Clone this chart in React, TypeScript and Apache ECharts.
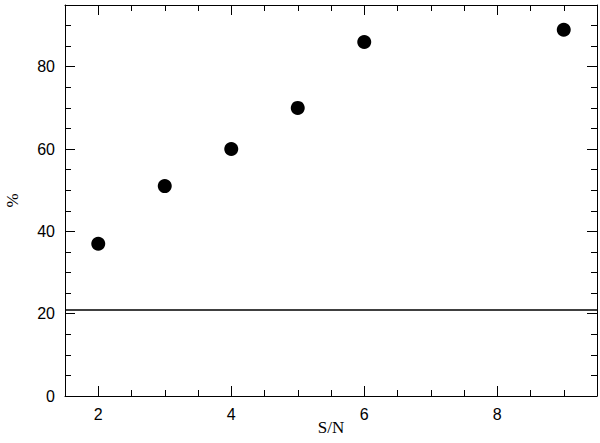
import React, { useEffect, useRef } from "react";
import * as echarts from "echarts";

const snValues = [2, 3, 4, 5, 6, 9];
const percentValues = [37, 51, 60, 70, 86, 89];
const referenceLevel = 21;
const xTickValues = [2, 4, 6, 8];
const yTickLabels = ["0", "20", "40", "60", "80"];

export default function App() {
  const ref = useRef<HTMLDivElement>(null);
  useEffect(() => {
    if (!ref.current) return;
    const chart = echarts.init(ref.current, undefined, { renderer: "svg" });
    const black = { color: "#000", width: 1 };
    const labelFont = {
      color: "#000",
      fontFamily: "Liberation Sans",
      fontSize: 16,
    };
    const nameFont = {
      color: "#000",
      fontFamily: "Liberation Serif",
      fontSize: 17,
    };
    const xMajor = (position: string, withLabels: boolean) => ({
      type: "value",
      min: 1.5,
      max: 9.5,
      interval: 0.5,
      position,
      axisLine: { show: true, onZero: false, lineStyle: black },
      splitLine: { show: false },
      axisTick: {
        show: true,
        inside: true,
        length: 10,
        customValues: xTickValues,
        lineStyle: black,
      },
      axisLabel: withLabels
        ? { ...labelFont, margin: 10, customValues: xTickValues }
        : { show: false },
      ...(withLabels
        ? {
            name: "S/N",
            nameLocation: "middle",
            nameGap: 23,
            nameMoveOverlap: false,
            nameTextStyle: nameFont,
          }
        : {}),
    });
    const xMinor = (position: string) => ({
      type: "value",
      min: 1.5,
      max: 9.5,
      interval: 0.5,
      position,
      axisLine: { show: false, onZero: false },
      splitLine: { show: false },
      axisTick: { show: true, inside: true, length: 6, lineStyle: black },
      axisLabel: { show: false },
    });
    const yAxisDef = (position: string, withLabels: boolean) => ({
      type: "value",
      min: 0,
      max: 95,
      interval: 20,
      position,
      axisLine: { show: true, onZero: false, lineStyle: black },
      splitLine: { show: false },
      axisTick: { show: true, inside: true, length: 10, lineStyle: black },
      minorTick: { show: true, splitNumber: 4, length: 6, lineStyle: black },
      axisLabel: withLabels
        ? {
            ...labelFont,
            margin: 10,
            showMaxLabel: false,
            formatter: (v: number) =>
              yTickLabels.includes(String(v)) ? String(v) : "",
          }
        : { show: false },
      ...(withLabels
        ? {
            name: "%",
            nameLocation: "middle",
            nameGap: 44,
            nameMoveOverlap: false,
            nameTextStyle: nameFont,
          }
        : {}),
    });
    chart.setOption({
      animation: false,
      backgroundColor: "#fff",
      grid: {
        left: 65,
        right: 3,
        top: 5,
        bottom: 47,
        outerBoundsMode: "none",
        containLabel: false,
      },
      xAxis: [
        xMajor("bottom", true),
        xMajor("top", false),
        xMinor("bottom"),
        xMinor("top"),
      ],
      yAxis: [yAxisDef("left", true), yAxisDef("right", false)],
      series: [
        {
          type: "scatter",
          xAxisIndex: 0,
          yAxisIndex: 0,
          data: snValues.map((x, i) => [x, percentValues[i]]),
          symbol: "circle",
          symbolSize: 14,
          itemStyle: { color: "#000", opacity: 1 },
          markLine: {
            silent: true,
            symbol: "none",
            label: { show: false },
            lineStyle: { color: "#000", width: 1.5, type: "solid" },
            data: [{ yAxis: referenceLevel }],
          },
        },
      ],
    });
    return () => chart.dispose();
  }, []);
  return (
    <div
      ref={ref}
      style={{ position: "fixed", left: 0, top: 0, width: 600, height: 443 }}
    />
  );
}
